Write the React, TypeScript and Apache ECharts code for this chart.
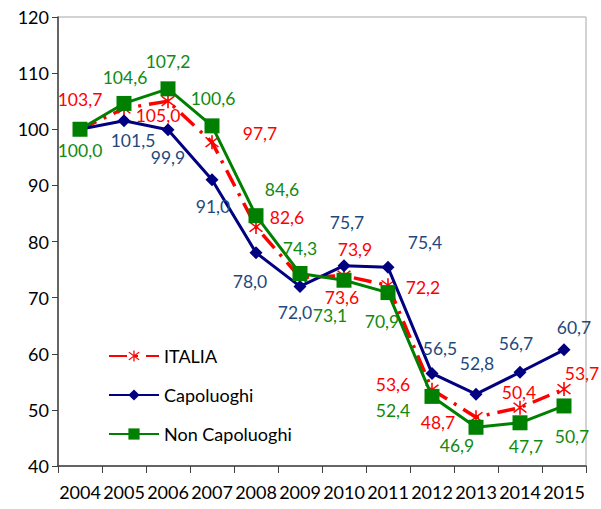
import React, { useEffect, useRef } from "react";
import * as echarts from "echarts";

const years = ["2004", "2005", "2006", "2007", "2008", "2009", "2010", "2011", "2012", "2013", "2014", "2015"];
const italia = [100.0, 103.7, 105.0, 97.7, 82.6, 73.6, 73.9, 72.2, 53.6, 48.7, 50.4, 53.7];
const capoluoghi = [100.0, 101.5, 99.9, 91.0, 78.0, 72.0, 75.7, 75.4, 56.5, 52.8, 56.7, 60.7];
const nonCapoluoghi = [100.0, 104.6, 107.2, 100.6, 84.6, 74.3, 73.1, 70.9, 52.4, 46.9, 47.7, 50.7];

// label offsets relative to each point (null = label hidden)
const italiaLabelOffsets: ([number, number] | null)[] = [
  null, [-44, -9], [-10, 14], [48, -9], [31, -9], [42, 20], [11, -26], [35, 2], [-39, -5], [-38, 5], [-1, -15], [18, -16],
];
const capoluoghiLabelOffsets: ([number, number] | null)[] = [
  null, [9, 20], [0, 28], [1, 27], [-6, 29], [-5, 26], [3, -43], [37, -25], [8, -25], [1, -31], [-4, -29], [10, -22],
];
const nonCapoluoghiLabelOffsets: ([number, number] | null)[] = [
  [0, 21], [1, -26], [0, -27], [1, -27], [26, -26], [0, -25], [-14, 35], [-6, 29], [-39, 14], [-19, 18], [6, 24], [8, 31],
];

const FONT = "Lato";
const STAR =
  "path://M9 0 L11 0 L11 20 L9 20 Z M1.3 3.7 L2.7 2.3 L18.7 16.3 L17.3 17.7 Z M17.3 2.3 L18.7 3.7 L2.7 17.7 L1.3 16.3 Z";

function fmt(v: number) {
  return v.toFixed(1).replace(".", ",");
}

function buildData(values: number[], offs: ([number, number] | null)[], color: string) {
  return values.map((v, i) => {
    const o = offs[i];
    return {
      value: v,
      label: o
        ? { show: true, position: "inside", offset: o, color, fontSize: 17.5, fontFamily: FONT, formatter: (p: any) => fmt(p.value) }
        : { show: false },
    };
  });
}

export default function App() {
  const ref = useRef<HTMLDivElement>(null);
  useEffect(() => {
    if (!ref.current) return;
    const chart = echarts.init(ref.current, undefined, { renderer: "svg" });
    chart.setOption({
      animation: false,
      backgroundColor: "#ffffff",
      textStyle: { fontFamily: FONT },
      grid: {
        left: 58,
        right: 15,
        top: 17,
        bottom: 43,
        show: true,
        borderColor: "#a6a6a6",
        borderWidth: 1,
        backgroundColor: "transparent",
      },
      legend: {
        orient: "vertical",
        left: 103,
        top: 342,
        itemWidth: 50,
        itemHeight: 14,
        itemGap: 21,
        textStyle: { fontSize: 18, color: "#000", fontFamily: FONT },
        data: ["ITALIA", "Capoluoghi", "Non Capoluoghi"],
      },
      xAxis: {
        type: "category",
        data: years,
        boundaryGap: true,
        axisLine: { lineStyle: { color: "#404040", width: 1.5 } },
        axisTick: { show: true, length: 7, lineStyle: { color: "#404040" } },
        axisLabel: { color: "#000", fontSize: 18, fontFamily: FONT, margin: 17, interval: 0 },
        splitLine: { show: false },
      },
      yAxis: {
        type: "value",
        min: 40,
        max: 120,
        interval: 10,
        axisLine: { show: true, lineStyle: { color: "#404040", width: 1.5 } },
        axisTick: { show: true, length: 6, lineStyle: { color: "#404040" } },
        axisLabel: { color: "#000", fontSize: 18, fontFamily: FONT, margin: 9 },
        splitLine: { show: false },
      },
      series: [
        {
          name: "ITALIA",
          type: "line",
          data: buildData(italia, italiaLabelOffsets, "#ff0000"),
          symbol: STAR,
          symbolSize: 14,
          itemStyle: { color: "#ff0000" },
          lineStyle: { color: "#ff0000", width: 3.5, type: [18, 8, 3, 8] },
          z: 2,
        },
        {
          name: "Capoluoghi",
          type: "line",
          data: buildData(capoluoghi, capoluoghiLabelOffsets, "#1f497d"),
          symbol: "diamond",
          symbolSize: 13,
          itemStyle: { color: "#000080" },
          lineStyle: { color: "#000080", width: 3 },
          z: 3,
        },
        {
          name: "Non Capoluoghi",
          type: "line",
          data: buildData(nonCapoluoghi, nonCapoluoghiLabelOffsets, "#118a11"),
          symbol: "rect",
          symbolSize: 15,
          itemStyle: { color: "#008000" },
          lineStyle: { color: "#008000", width: 3 },
          z: 4,
        },
      ],
    });
    return () => chart.dispose();
  }, []);
  return <div ref={ref} style={{ position: "absolute", left: 0, top: 0, width: 601, height: 509 }} />;
}
